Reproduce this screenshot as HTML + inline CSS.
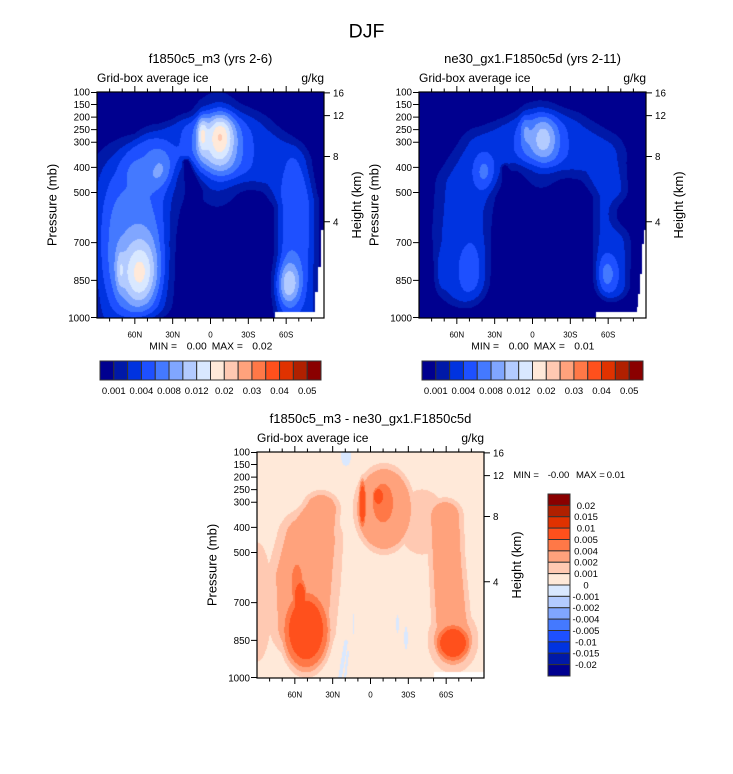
<!DOCTYPE html>
<html><head><meta charset="utf-8">
<style>
html,body{margin:0;padding:0;background:#fff;}
body{width:733px;height:774px;position:relative;overflow:hidden;font-family:"Liberation Sans",Arial,sans-serif;}
canvas{position:absolute;}
svg{position:absolute;left:0;top:0;}
</style></head><body>
<canvas id="c1" width="227" height="226" style="left:97px;top:92px"></canvas>
<canvas id="c2" width="227" height="226" style="left:419px;top:92px"></canvas>
<canvas id="c3" width="227" height="226" style="left:257px;top:452px"></canvas>
<svg width="733" height="774" viewBox="0 0 733 774" font-family="Liberation Sans, Arial, sans-serif" fill="#000">
<defs>
<g id="axes">
<rect x="0" y="0" width="227" height="226" fill="none" stroke="#000" stroke-width="1.2"/>
<path stroke="#000" stroke-width="1" fill="none" d="M12.61 0v-3.5M25.22 0v-3.5M37.83 0v-6M50.44 0v-3.5M63.06 0v-3.5M75.67 0v-6M88.28 0v-3.5M100.89 0v-3.5M113.5 0v-6M126.11 0v-3.5M138.72 0v-3.5M151.33 0v-6M163.94 0v-3.5M176.56 0v-3.5M189.17 0v-6M201.78 0v-3.5M214.39 0v-3.5M12.61 226v3.5M25.22 226v3.5M37.83 226v6M50.44 226v3.5M63.06 226v3.5M75.67 226v6M88.28 226v3.5M100.89 226v3.5M113.5 226v6M126.11 226v3.5M138.72 226v3.5M151.33 226v6M163.94 226v3.5M176.56 226v3.5M189.17 226v6M201.78 226v3.5M214.39 226v3.5M0 0.5h-6M0 12.56h-6M0 25.11h-6M0 37.67h-6M0 50.22h-6M0 75.33h-6M0 100.44h-6M0 150.67h-6M0 188.33h-6M0 225.5h-6M227 0.9h6M227 23.6h6M227 64.5h6M227 129.8h6"/>
<g font-size="9.8" text-anchor="end">
<text x="-7" y="3.5">100</text><text x="-7" y="16.06">150</text><text x="-7" y="28.61">200</text><text x="-7" y="41.17">250</text><text x="-7" y="53.72">300</text><text x="-7" y="78.83">400</text><text x="-7" y="103.94">500</text><text x="-7" y="154.17">700</text><text x="-7" y="191.83">850</text><text x="-7" y="229.5">1000</text>
</g>
<g font-size="9.8">
<text x="236" y="4.4">16</text><text x="236" y="27.1">12</text><text x="236" y="68">8</text><text x="236" y="133.3">4</text>
</g>
<g font-size="8" text-anchor="middle">
<text x="37.83" y="245.7">60N</text><text x="75.67" y="245.7">30N</text><text x="113.5" y="245.7">0</text><text x="151.33" y="245.7">30S</text><text x="189.17" y="245.7">60S</text>
</g>
<text font-size="13" text-anchor="middle" transform="translate(-40.5,113) rotate(-90)">Pressure (mb)</text>
<text font-size="13" text-anchor="middle" transform="translate(264,113) rotate(-90)">Height (km)</text>
<text font-size="12" x="0" y="-10">Grid-box average ice</text>
<text font-size="12" x="227" y="-10" text-anchor="end">g/kg</text>
</g>
<g id="hbar">
<rect x="100" y="361" width="13.81" height="19" fill="#00008f" stroke="#333"/>
<rect x="113.81" y="361" width="13.81" height="19" fill="#0019a8" stroke="#333"/>
<rect x="127.63" y="361" width="13.81" height="19" fill="#0033e0" stroke="#333"/>
<rect x="141.44" y="361" width="13.81" height="19" fill="#1e50ff" stroke="#333"/>
<rect x="155.25" y="361" width="13.81" height="19" fill="#4479ff" stroke="#333"/>
<rect x="169.06" y="361" width="13.81" height="19" fill="#80a6ff" stroke="#333"/>
<rect x="182.88" y="361" width="13.81" height="19" fill="#b3cbff" stroke="#333"/>
<rect x="196.69" y="361" width="13.81" height="19" fill="#d9e8ff" stroke="#333"/>
<rect x="210.5" y="361" width="13.81" height="19" fill="#ffe9d9" stroke="#333"/>
<rect x="224.31" y="361" width="13.81" height="19" fill="#ffc9b2" stroke="#333"/>
<rect x="238.13" y="361" width="13.81" height="19" fill="#ffa27c" stroke="#333"/>
<rect x="251.94" y="361" width="13.81" height="19" fill="#ff7847" stroke="#333"/>
<rect x="265.75" y="361" width="13.81" height="19" fill="#ff501c" stroke="#333"/>
<rect x="279.56" y="361" width="13.81" height="19" fill="#e03200" stroke="#333"/>
<rect x="293.38" y="361" width="13.81" height="19" fill="#b02000" stroke="#333"/>
<rect x="307.19" y="361" width="13.81" height="19" fill="#8a0000" stroke="#333"/>
<g font-size="9.5" text-anchor="middle">
<text x="113.81" y="394">0.001</text><text x="141.44" y="394">0.004</text><text x="169.06" y="394">0.008</text><text x="196.69" y="394">0.012</text><text x="224.31" y="394">0.02</text><text x="251.94" y="394">0.03</text><text x="279.56" y="394">0.04</text><text x="307.19" y="394">0.05</text>
</g>
</g>
</defs>

<text x="366.5" y="37.5" font-size="19.5" text-anchor="middle">DJF</text>

<g transform="translate(97,92)">
<use href="#axes"/>
<text x="113.5" y="-29" font-size="13" text-anchor="middle">f1850c5_m3 (yrs 2-6)</text>
<g font-size="10.3"><text x="52.3" y="257.3">MIN =</text><text x="89.7" y="257.3">0.00</text><text x="114.7" y="257.3">MAX =</text><text x="155.3" y="257.3">0.02</text></g>
</g>
<use href="#hbar"/>

<g transform="translate(419,92)">
<use href="#axes"/>
<text x="113.5" y="-29" font-size="13" text-anchor="middle">ne30_gx1.F1850c5d (yrs 2-11)</text>
<g font-size="10.3"><text x="52.3" y="257.3">MIN =</text><text x="89.7" y="257.3">0.00</text><text x="114.7" y="257.3">MAX =</text><text x="155.3" y="257.3">0.01</text></g>
</g>
<use href="#hbar" transform="translate(322,0)"/>

<g transform="translate(257,452)">
<use href="#axes"/>
<text x="113.5" y="-29" font-size="13" text-anchor="middle">f1850c5_m3 - ne30_gx1.F1850c5d</text>
</g>
<g font-size="9.5"><text x="513.3" y="478">MIN =</text><text x="547.7" y="478">-0.00</text><text x="576" y="478">MAX =</text><text x="606.7" y="478">0.01</text></g>

<g stroke="#333" stroke-width="1">
<rect x="548" y="494" width="22" height="11.375" fill="#8a0000"/>
<rect x="548" y="505.375" width="22" height="11.375" fill="#b02000"/>
<rect x="548" y="516.75" width="22" height="11.375" fill="#e03200"/>
<rect x="548" y="528.125" width="22" height="11.375" fill="#ff501c"/>
<rect x="548" y="539.5" width="22" height="11.375" fill="#ff7847"/>
<rect x="548" y="550.875" width="22" height="11.375" fill="#ffa27c"/>
<rect x="548" y="562.25" width="22" height="11.375" fill="#ffc9b2"/>
<rect x="548" y="573.625" width="22" height="11.375" fill="#ffe9d9"/>
<rect x="548" y="585" width="22" height="11.375" fill="#d9e8ff"/>
<rect x="548" y="596.375" width="22" height="11.375" fill="#b3cbff"/>
<rect x="548" y="607.75" width="22" height="11.375" fill="#80a6ff"/>
<rect x="548" y="619.125" width="22" height="11.375" fill="#4479ff"/>
<rect x="548" y="630.5" width="22" height="11.375" fill="#1e50ff"/>
<rect x="548" y="641.875" width="22" height="11.375" fill="#0033e0"/>
<rect x="548" y="653.25" width="22" height="11.375" fill="#0019a8"/>
<rect x="548" y="664.625" width="22" height="11.375" fill="#00008f"/>
</g>
<g font-size="9.5" text-anchor="middle">
<text x="586" y="508.8">0.02</text><text x="586" y="520.2">0.015</text><text x="586" y="531.5">0.01</text><text x="586" y="542.9">0.005</text><text x="586" y="554.3">0.004</text><text x="586" y="565.7">0.002</text><text x="586" y="577">0.001</text><text x="586" y="588.4">0</text><text x="586" y="599.8">-0.001</text><text x="586" y="611.2">-0.002</text><text x="586" y="622.5">-0.004</text><text x="586" y="633.9">-0.005</text><text x="586" y="645.3">-0.01</text><text x="586" y="656.7">-0.015</text><text x="586" y="668">-0.02</text>
</g>
</svg>
<script>
(function(){
var HEX=['#00008f','#0019a8','#0033e0','#1e50ff','#4479ff','#80a6ff','#b3cbff','#d9e8ff','#ffe9d9','#ffc9b2','#ffa27c','#ff7847','#ff501c','#e03200','#b02000','#8a0000'];
var PAL=HEX.map(function(h){return [parseInt(h.slice(1,3),16),parseInt(h.slice(3,5),16),parseInt(h.slice(5,7),16)];});
function blob(x,y,b){var dx=(x-b[0])/b[2],dy=(y-b[1])/b[3],r2=dx*dx+dy*dy,p=b[5]||2;return b[4]*Math.exp(-0.5*Math.pow(r2,p/2));}
function band(x,y,pts,A,p){var best=1e9;for(var i=0;i<pts.length-1;i++){var a=pts[i],c=pts[i+1],vx=c[0]-a[0],vy=c[1]-a[1],L=vx*vx+vy*vy;var t=((x-a[0])*vx+(y-a[1])*vy)/L;t=Math.max(0,Math.min(1,t));var px=a[0]+t*vx,py=a[1]+t*vy,d=Math.hypot(x-px,y-py),w=a[2]+t*(c[2]-a[2]),r=d/w;if(r<best)best=r;}return A*Math.exp(-0.5*Math.pow(best,p));}
function cl(v){return Math.max(0,Math.min(15,Math.floor(v)));}
function segd(x,y,x1,y1,x2,y2){var vx=x2-x1,vy=y2-y1,L=vx*vx+vy*vy,t=((x-x1)*vx+(y-y1)*vy)/L;t=Math.max(0,Math.min(1,t));return Math.hypot(x-(x1+t*vx),y-(y1+t*vy));}
function render(id,fn){var c=document.getElementById(id),ctx=c.getContext('2d'),W=227,H=226,img=ctx.createImageData(W,H),d=img.data;for(var y=0;y<H;y++)for(var x=0;x<W;x++){var r=fn(x+0.5,y+0.5),col=r<0?[255,255,255]:PAL[r],k=(y*W+x)*4;d[k]=col[0];d[k+1]=col[1];d[k+2]=col[2];d[k+3]=255;}ctx.putImageData(img,0,0);}

var TLp=[[34,260,34.4],[36,150,34.4],[38,92,41],[62,62,25.8],[88,46,18.9],[115,50,25.8],[150,55,30.9],[185,75,25.8],[200,110,18.9],[200,160,18.9],[200,260,18.9]];
var TLb=[[120,58,18,34,4],[124,42,9,16,3],[105,42,3.5,13,3],[34,150,30,60,2.0,4],[43,182,13,25,4.0],[64,80,9,16,1.5],[50,70,22,22,1.2,4],[23,178,3,14,1.5],[191,193,9,16,4],[198,130,14,60,1.2,4],[55,232,25,8,-1.5]];
var TLs=[[89,70,2],[93,85,3],[98,100,4]];
function fTL(x,y){if((y>220&&x>178)||(x>224&&y>138)||(x>221&&y>175)||(x>218&&y>200))return -1;var f=band(x,y,TLp,2.5,4)-band(x,y,TLs,3.5,2);for(var i=0;i<TLb.length;i++)f+=blob(x,y,TLb[i]);return cl(f);}

var TRp=[[42,188,22.9],[42,140,25.5],[46,95,26.4],[65,62,24.6],[88,50,21.1],[118,45,24.6],[150,50,26.4],[180,65,24.6],[192,100,15.8],[193,150,16.7],[194,192,15]];
var TRb=[[53,178,12,25,1.3],[65,80,8,14,2.0],[22,178,3,12,1.0],[122,55,17,30,2.5],[125,45,9,14,2.0],[106,38,3.5,12,1.3],[188,182,8,14,2.2],[208,122,9,10,-2.5]];
var TRs=[[86,76,2],[90,90,3],[95,100,4]];
function fTR(x,y){if((y>220&&x>177)||(x>225&&y>138)||(x>222.7&&y>152)||(x>221&&y>182)||(x>219&&y>202)||(x>217.7&&y>215))return -1;var f=band(x,y,TRp,2.3,4)-band(x,y,TRs,2.5,2);for(var i=0;i<TRb.length;i++)f+=blob(x,y,TRb[i]);return cl(f);}

var BL=[[46,175,25],[47,125,28],[53,88,25],[64,58,15]];
var BR=[[188,64,14],[190,110,14],[194,165,15],[197,190,16]];
var BB=[[0,150,14,55,0.9,2],[49,178,22,38,3.9,6],[43,148,7,22,3.9,6],[40,132,7,25,3.0,4],[127,57,27,40,2.45,8],[105.5,52,3.6,23.5,3.9,6],[126,51,12.9,25,3.0,4],[121.5,44.5,5.8,9.7,3.9,6],[165,70,22,30,1.0,4],[196,188,19,25,2.45,4],[196,191,16.5,18,3.9,6]];
var PE=[[89,3,5,11],[96.5,172,1,10],[140.5,172,1.3,9],[149,186,1.8,11]];
function fB(x,y){if(y>220&&x>177)return -1;
for(var i=0;i<PE.length;i++){var p=PE[i],dx=(x-p[0])/p[2],dy=(y-p[1])/p[3];if(dx*dx+dy*dy<1)return 7;}
if(segd(x,y,83,226,89,190)<1.8||segd(x,y,88,226,91,200)<1.1)return 7;
var m=Math.max(band(x,y,BL,2.45,4),band(x,y,BR,2.45,4));for(var j=0;j<BB.length;j++)m=Math.max(m,blob(x,y,BB[j]));return cl(8.5+m);}

render('c1',fTL);render('c2',fTR);render('c3',fB);
})();
</script>
</body></html>
